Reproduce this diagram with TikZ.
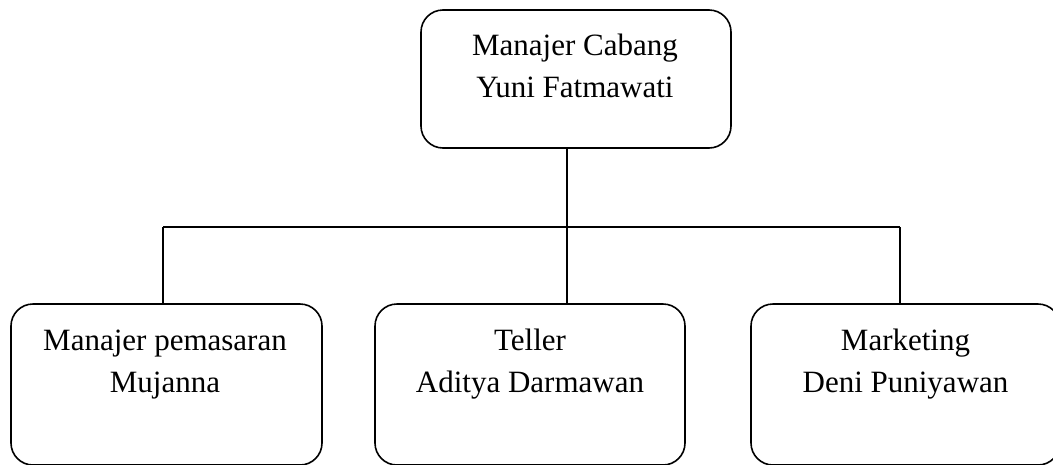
\documentclass[tikz,border=0pt]{standalone}
\usepackage{fontspec}
\setmainfont{Liberation Serif}
\begin{document}
\begin{tikzpicture}[x=1pt,y=-1pt,
  box/.style={draw=black,line width=1.6pt,rounded corners=22pt,inner sep=0pt,outer sep=0pt,
              minimum height=#1},
  box/.default=161pt,
  label/.style={anchor=base,inner sep=0pt,font=\fontsize{31}{42}\selectfont},
  link/.style={draw=black,line width=1.6pt}]
\useasboundingbox (0,0) rectangle (1053,464);

% head of the branch
\node[box=138pt,minimum width=310pt] (top) at (576,79) {};
\node[label] (topA) at (575,55) {Manajer Cabang};
\node[label] (topB) at (575,97) {Yuni Fatmawati};

% staff boxes
\node[box,minimum width=311pt] (left) at (166.5,384.5) {};
\node[label] (leftA) at (165,350) {Manajer pemasaran};
\node[label] (leftB) at (165,392) {Mujanna};

\node[box,minimum width=310pt] (mid) at (530,384.5) {};
\node[label] (midA) at (530,350) {Teller};
\node[label] (midB) at (530,392) {Aditya Darmawan};

\node[box,minimum width=309pt] (right) at (905.5,384.5) {};
\node[label] (rightA) at (905.5,350) {Marketing};
\node[label] (rightB) at (905.5,392) {Deni Puniyawan};

% connectors
\coordinate (jL) at (163,227);
\coordinate (jM) at (567,227);
\coordinate (jR) at (900,227);
\draw[link] (top.south -| jM) -- (jM);
\draw[link] (jL) -- (jR);
\draw[link] (jL) -- (jL |- left.north);
\draw[link] (jM) -- (jM |- mid.north);
\draw[link] (jR) -- (jR |- right.north);
\end{tikzpicture}
\end{document}
